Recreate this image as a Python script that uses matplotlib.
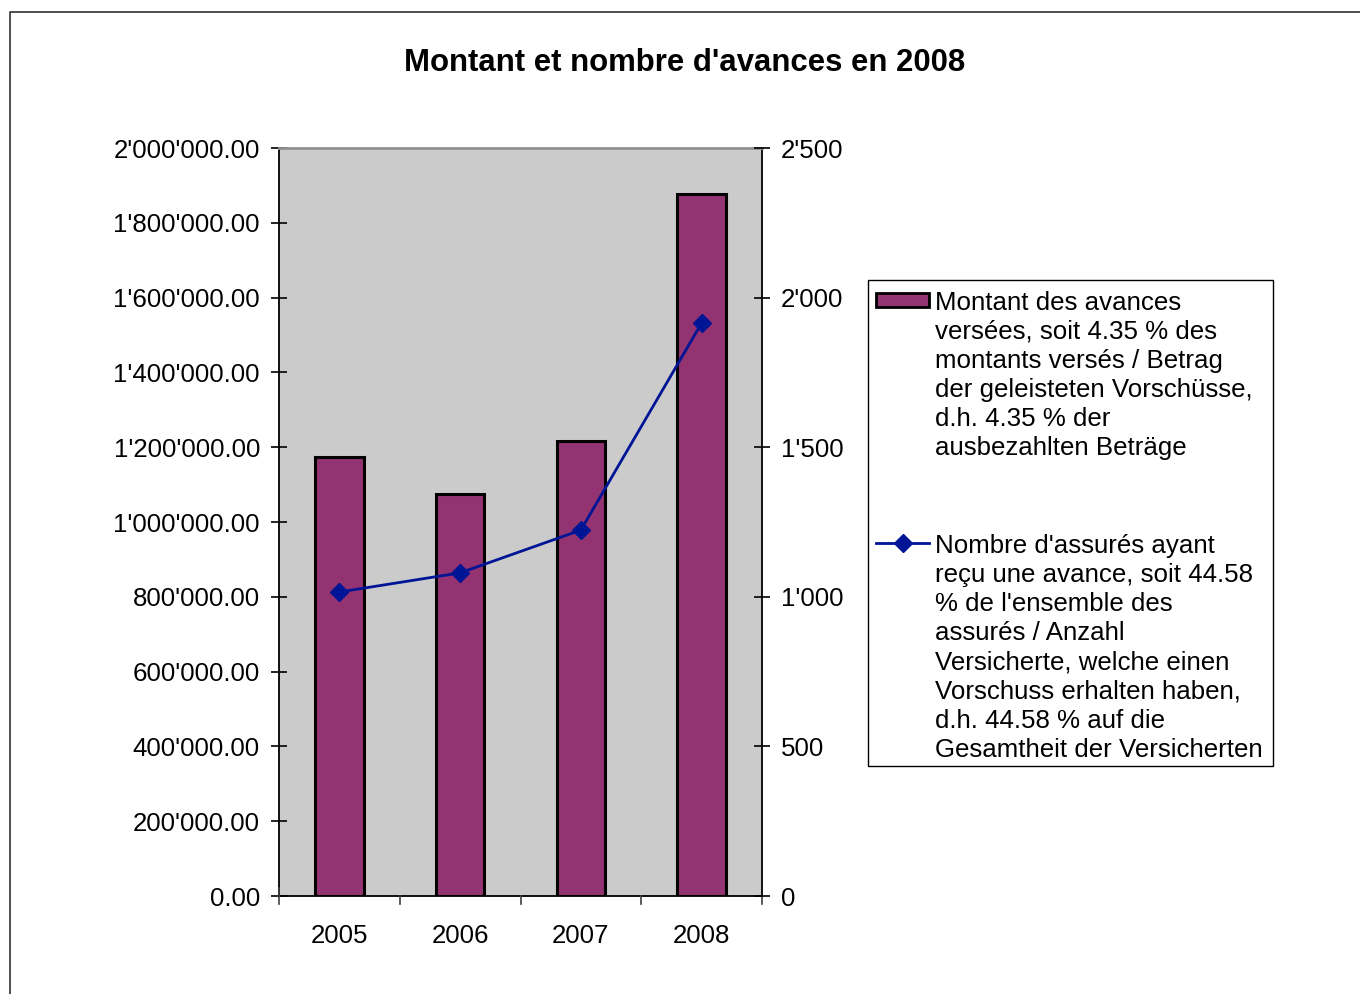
import matplotlib
matplotlib.use("Agg")
import matplotlib.pyplot as plt
from matplotlib.patches import Rectangle
from matplotlib.lines import Line2D
from matplotlib.ticker import FuncFormatter, FixedLocator
import numpy as np

plt.rcParams['font.family'] = ['Liberation Sans', 'DejaVu Sans']

years = ["2005", "2006", "2007", "2008"]
montants = [1174000, 1075000, 1216000, 1877000]
assures = [1016, 1080, 1223, 1915]

title = "Montant et nombre d'avances en 2008"
legend_bar = ["Montant des avances", "versées, soit 4.35 % des", "montants versés / Betrag",
              "der geleisteten Vorschüsse,", "d.h. 4.35 % der", "ausbezahlten Beträge"]
legend_line = ["Nombre d'assurés ayant", "reçu une avance, soit 44.58", "% de l'ensemble des",
               "assurés / Anzahl", "Versicherte, welche einen", "Vorschuss erhalten haben,",
               "d.h. 44.58 % auf die", "Gesamtheit der Versicherten"]

BAR_COLOR = "#933371"
LINE_COLOR = "#001496"
BG = "#CBCBCB"
FS = 18.6

W, H = 1360, 994
fig = plt.figure(figsize=(W / 100, H / 100), dpi=100)


def fx(x):
    return x / W


def fy(y):
    return 1 - y / H


ax = fig.add_axes([fx(279), fy(896), fx(762) - fx(279), fy(148) - fy(896)])
ax.set_facecolor(BG)
x = np.arange(len(years))
ax.bar(x, montants, width=0.4, color=BAR_COLOR, edgecolor="black", linewidth=2.2, zorder=2)
ax.set_xlim(-0.5, len(years) - 0.5)
ax.set_ylim(0, 2000000)
ax.yaxis.set_major_locator(FixedLocator(np.arange(0, 2000001, 200000)))
ax.yaxis.set_major_formatter(FuncFormatter(lambda v, p: f"{v:,.2f}".replace(",", "'")))
ax.set_xticks(x)
ax.set_xticklabels(years)
ax.tick_params(axis="x", which="major", length=0, pad=20.5, labelsize=FS)
ax.tick_params(axis="y", direction="inout", length=11.5, width=1.2, pad=8, labelsize=FS)
for s in ["left", "bottom", "right"]:
    ax.spines[s].set_color("black")
    ax.spines[s].set_linewidth(1.3)
ax.spines["top"].set_color("#909090")
ax.spines["top"].set_linewidth(2)

# category separators below the axis
for b in np.arange(-0.5, len(years), 1.0):
    ax.plot([b, b], [-0.011 * 2000000, 0.011 * 2000000 if b in (-0.5,) else 0],
            color="#404040", lw=1.2, clip_on=False, zorder=5)

ax2 = ax.twinx()
ax2.set_ylim(0, 2500)
ax2.yaxis.set_major_locator(FixedLocator(np.arange(0, 2501, 500)))
ax2.yaxis.set_major_formatter(FuncFormatter(lambda v, p: f"{int(v):,}".replace(",", "'")))
ax2.tick_params(axis="y", direction="inout", length=11.5, width=1.2, pad=8, labelsize=FS)
ax2.plot(x, assures, color=LINE_COLOR, lw=2, marker="D", markersize=9.5, zorder=3)
for s in ax2.spines.values():
    s.set_visible(False)

fig.text(fx(685), fy(63), title, ha="center", va="center", fontsize=22.4, fontweight="bold")

# legend box
fig.patches.append(Rectangle((fx(868), fy(766)), fx(1273) - fx(868), fy(280) - fy(766),
                             transform=fig.transFigure, facecolor="white",
                             edgecolor="black", linewidth=1))
fig.patches.append(Rectangle((fx(876), fy(307)), fx(929) - fx(876), fy(293) - fy(307),
                             transform=fig.transFigure, facecolor=BAR_COLOR,
                             edgecolor="black", linewidth=2))
fig.lines.append(Line2D([fx(876), fx(929)], [fy(543), fy(543)], transform=fig.transFigure,
                        color=LINE_COLOR, lw=2, marker=None))
fig.lines.append(Line2D([fx(902.5)], [fy(543)], transform=fig.transFigure,
                        color=LINE_COLOR, marker="D", markersize=9.5))
for i, line in enumerate(legend_bar):
    fig.text(fx(935), fy(300 + 29.2 * i + 9.5), line, ha="left", va="baseline", fontsize=FS)
for i, line in enumerate(legend_line):
    fig.text(fx(935), fy(543 + 29.2 * i + 9.5), line, ha="left", va="baseline", fontsize=FS)

# outer frame
fig.lines.append(Line2D([fx(10), fx(10), fx(W + 5)], [fy(H + 5), fy(12), fy(12)],
                        transform=fig.transFigure, color="#303030", lw=1.2))

fig.savefig("out.png", dpi=100)
